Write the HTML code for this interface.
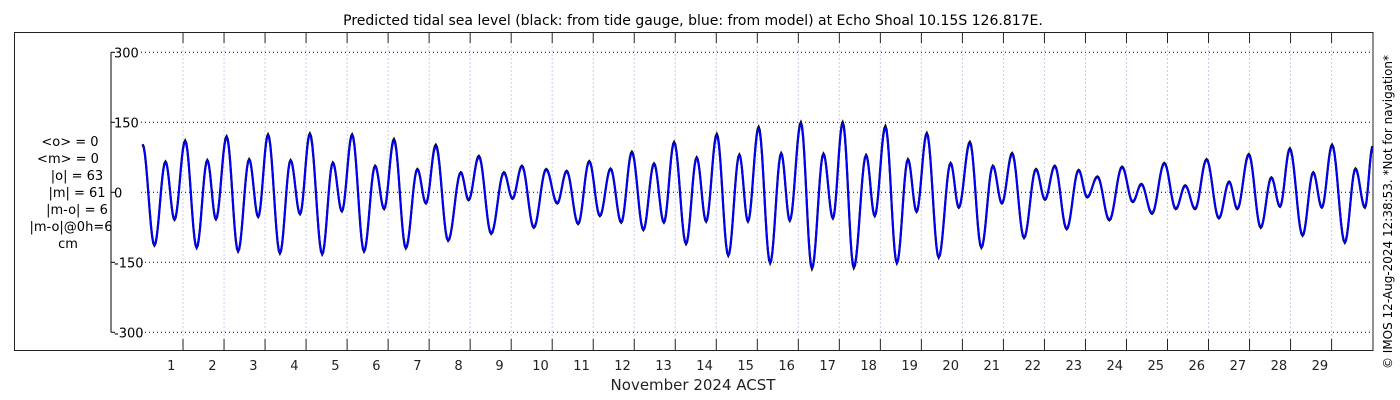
<!DOCTYPE html>
<html><head><meta charset="utf-8"><style>
body{margin:0;background:#fff;}
svg{display:block;font-family:"DejaVu Sans","Liberation Sans",sans-serif;}
</style></head><body>
<svg id="chart" width="1400" height="400" viewBox="0 0 1400 400" xmlns="http://www.w3.org/2000/svg">
<text x="693" y="25" font-size="14" text-anchor="middle" fill="#000">Predicted tidal sea level (black: from tide gauge, blue: from model) at Echo Shoal 10.15S 126.817E.</text>
<rect x="14.5" y="32.5" width="1358.5" height="318" fill="none" stroke="#222" stroke-width="1"/>
<g id="grid"></g>
<g id="axes"></g>
<g id="series"></g>
<g font-size="13" fill="#000" text-anchor="middle">
<text x="70" y="146">&lt;o&gt; = 0</text>
<text x="68" y="163">&lt;m&gt; = 0</text>
<text x="77" y="180">|o| = 63</text>
<text x="77" y="197">|m| = 61</text>
<text x="77" y="214">|m-o| = 6</text>
<text x="71" y="231">|m-o|@0h=6</text>
<text x="68" y="248">cm</text>
</g>
<text x="693" y="390" font-size="15" text-anchor="middle" fill="#222">November 2024 ACST</text>
<text transform="translate(1392,212) rotate(-90)" font-size="12" text-anchor="middle" fill="#000">© IMOS 12-Aug-2024 12:38:53. *Not for navigation*</text>
</svg>
<script>
const dayLabels = [1,2,3,4,5,6,7,8,9,10,11,12,13,14,15,16,17,18,19,20,21,22,23,24,25,26,27,28,29];
const yTicks = [300,150,0,-150,-300];
const tDays = [0.02,0.31,0.58,0.80,1.06,1.34,1.60,1.81,2.07,2.35,2.62,2.84,3.08,3.37,3.63,3.86,4.10,4.40,4.66,4.88,5.13,5.42,5.69,5.91,6.15,6.44,6.72,6.93,7.17,7.47,7.78,7.97,8.22,8.52,8.83,9.04,9.27,9.56,9.86,10.13,10.36,10.64,10.91,11.17,11.43,11.69,11.95,12.23,12.49,12.73,12.98,13.27,13.53,13.76,14.02,14.30,14.57,14.78,15.04,15.32,15.59,15.80,16.07,16.34,16.62,16.85,17.09,17.36,17.66,17.87,18.13,18.41,18.68,18.89,19.14,19.43,19.72,19.92,20.19,20.47,20.75,20.97,21.22,21.51,21.80,22.02,22.26,22.55,22.84,23.05,23.30,23.59,23.90,24.16,24.37,24.63,24.93,25.21,25.44,25.68,25.96,26.26,26.51,26.71,26.99,27.28,27.54,27.75,27.99,28.30,28.56,28.77,29.02,29.33,29.59,29.82,30.01];
const modelLevel = [101,-112,64,-57,108,-117,67,-56,117,-125,69,-51,121,-129,67,-45,123,-131,62,-39,121,-125,55,-34,110,-118,48,-22,98,-102,41,-15,75,-87,41,-12,55,-74,48,-22,44,-66,65,-49,49,-63,84,-79,60,-63,105,-109,73,-61,121,-134,79,-61,136,-150,82,-59,146,-161,81,-54,146,-159,78,-49,138,-150,69,-40,124,-138,61,-31,105,-117,55,-22,81,-96,48,-14,55,-77,46,-9,32,-58,53,-19,16,-44,61,-34,13,-34,69,-54,21,-34,79,-74,30,-29,91,-91,41,-31,99,-106,49,-31,96];
const gaugeLevel = [103,-114,66,-59,111,-119,69,-58,120,-127,71,-53,124,-131,69,-47,126,-133,64,-41,124,-127,57,-36,114,-120,50,-24,102,-104,43,-17,78,-89,43,-14,57,-76,50,-24,46,-68,67,-51,51,-65,87,-81,62,-65,108,-111,75,-63,125,-136,81,-63,140,-152,84,-61,150,-164,83,-56,150,-162,80,-51,142,-152,71,-42,127,-140,63,-33,108,-119,57,-24,84,-98,50,-16,57,-79,48,-11,34,-60,55,-21,18,-46,63,-36,15,-36,71,-56,23,-36,82,-76,32,-31,94,-93,43,-33,102,-108,51,-33,99];

const NS='http://www.w3.org/2000/svg';
const X0=141.7, DX=41.02, Y0=192.3, KY=0.4667;
function xs(t){return X0+t*DX;}
function ys(v){return Y0-v*KY;}
function mk(tag,attrs,parent){const e=document.createElementNS(NS,tag);for(const k in attrs)e.setAttribute(k,attrs[k]);parent.appendChild(e);return e;}
const grid=document.getElementById('grid'), axes=document.getElementById('axes'), series=document.getElementById('series');

yTicks.forEach(v=>{
  const y=ys(v);
  const gl=mk('line',{x1:141,x2:1372,y1:y,y2:y,stroke:'#000','stroke-width':1,'stroke-dasharray':'1,3'},grid);
  
  
  const tk=mk('line',{x1:111,x2:115,y1:y,y2:y,stroke:'#000','stroke-width':1},axes);
  
  
  const tl=mk('text',{x:114,y:y+5,'font-size':13,fill:'#000'},axes);
  tl.textContent=String(v);
  
  
});
const ya=mk('line',{x1:111,x2:111,y1:ys(300),y2:ys(-300),stroke:'#000','stroke-width':1},axes);



dayLabels.forEach(d=>{
  const x=xs(d)+0.3;
  const vg=mk('line',{x1:x,x2:x,y1:42,y2:340,stroke:'#c6cdf2','stroke-width':1,'stroke-dasharray':'2,2'},grid);
  
  
  const t1=mk('line',{x1:x,x2:x,y1:33,y2:43,stroke:'#222','stroke-width':1},axes);
  
  
  const t2=mk('line',{x1:x,x2:x,y1:339,y2:350,stroke:'#222','stroke-width':1},axes);
  
  
  const lb=mk('text',{x:x-11.7,y:370,'font-size':13,'text-anchor':'middle',fill:'#222'},axes);
  lb.textContent=String(d);
  
  
});

function curve(ts,vs){
  let d='M'+xs(ts[0]).toFixed(2)+','+ys(vs[0]).toFixed(2);
  for(let i=0;i<ts.length-1;i++){
    const n=10;
    for(let j=1;j<=n;j++){
      const f=j/n, w=(1-Math.cos(Math.PI*f))/2;
      const t=ts[i]+(ts[i+1]-ts[i])*f, v=vs[i]+(vs[i+1]-vs[i])*w;
      d+=' L'+xs(t).toFixed(2)+','+ys(v).toFixed(2);
    }
  }
  return d;
}
const g1=mk('path',{d:curve(tDays,gaugeLevel),fill:'none',stroke:'#000','stroke-width':2.2},series);


const m1=mk('path',{d:curve(tDays,modelLevel),fill:'none',stroke:'#0000ff','stroke-width':2},series);


</script>
</body></html>
